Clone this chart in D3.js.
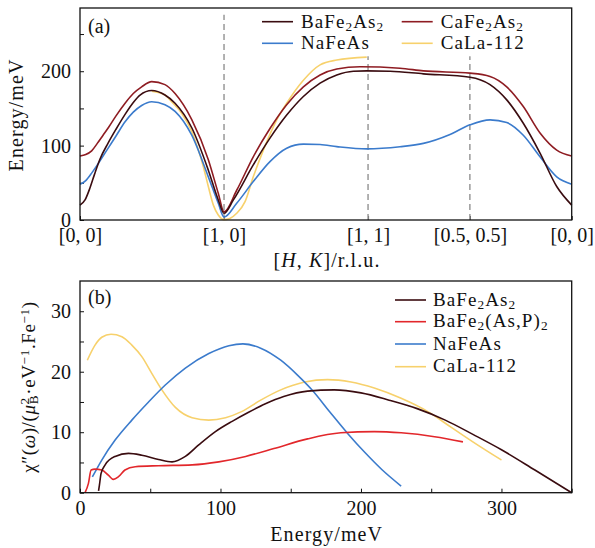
<!DOCTYPE html>
<html>
<head>
<meta charset="utf-8">
<script src="https://cdn.jsdelivr.net/npm/d3@7"></script>
<style>
  html, body { margin: 0; padding: 0; background: #fff; }
  svg text { font-family: "Liberation Serif", "DejaVu Serif", serif; fill: #111; }
</style>
</head>
<body>
<svg id="chart" width="595" height="548"></svg>
<script>
// ---- Panel (a): spin-wave dispersion along the high-symmetry path ----
// path coordinate (r.l.u. path length) of the high-symmetry points
const pathPoints = [0, 1, 2, 2.707, 3.414];
const pathLabels = ["[0, 0]", "[1, 0]", "[1, 1]", "[0.5, 0.5]", "[0, 0]"];
const dispTicks = [0, 50, 100, 150, 200, 250];
const dispTickLabels = [0, 100, 200];

// [path coordinate, energy meV]
const dispBaFe2As2 = [
  [0, 20], [0.035, 27], [0.069, 43], [0.1, 61], [0.139, 82], [0.194, 103],
  [0.25, 122], [0.313, 142], [0.37, 158], [0.417, 168], [0.498, 174],
  [0.59, 168], [0.66, 157], [0.776, 124], [0.891, 67], [0.96, 27], [1.0, 9],
  [1.065, 27], [1.203, 74], [1.319, 110], [1.435, 141], [1.551, 166],
  [1.667, 184], [1.783, 195], [1.898, 200], [1.991, 200.5], [2.153, 200],
  [2.384, 196.5], [2.708, 192], [2.847, 182], [2.963, 161.5], [3.078, 130],
  [3.194, 90], [3.31, 45], [3.414, 20]
];
const dispCaFe2As2 = [
  [0, 86], [0.04, 88], [0.081, 93], [0.12, 103], [0.16, 114], [0.2, 125],
  [0.25, 140], [0.313, 157], [0.37, 170], [0.428, 179], [0.498, 186],
  [0.59, 182], [0.66, 170], [0.776, 135], [0.891, 81], [0.96, 36], [1.0, 11],
  [1.088, 40], [1.203, 85], [1.319, 123], [1.435, 155], [1.551, 179],
  [1.667, 195], [1.783, 203], [1.944, 206], [2.222, 204], [2.384, 200.5],
  [2.708, 197.4], [2.847, 193], [2.963, 179], [3.078, 152.5], [3.194, 117],
  [3.31, 94], [3.414, 86]
];
const dispNaFeAs = [
  [0, 48], [0.04, 53], [0.081, 63], [0.12, 74], [0.16, 86], [0.2, 98],
  [0.25, 113], [0.313, 132], [0.37, 145], [0.428, 154], [0.498, 159],
  [0.59, 155], [0.66, 146], [0.776, 114], [0.891, 58], [0.96, 22.5], [1.0, 4],
  [1.088, 22.5], [1.203, 51.6], [1.319, 78.5], [1.435, 96.5], [1.551, 102],
  [1.667, 101.5], [1.783, 98.7], [1.991, 95.6], [2.222, 98.5], [2.384, 103],
  [2.569, 115], [2.708, 128], [2.847, 134.6], [2.963, 131], [3.078, 114],
  [3.194, 85], [3.31, 58], [3.414, 48]
];
const dispCaLa112 = [
  [0.498, 173], [0.59, 168], [0.636, 159], [0.706, 143.6], [0.776, 119],
  [0.822, 94], [0.856, 72], [0.891, 45], [0.926, 20], [0.96, 6.7], [1.0, 0.5],
  [1.04, 2], [1.088, 9], [1.146, 24.6], [1.203, 58], [1.273, 94], [1.366, 134.6],
  [1.435, 157], [1.551, 188], [1.667, 208.6], [1.783, 215], [1.991, 219]
];

// ---- Panel (b): local susceptibility versus energy ----
const chiXTicks = [0, 50, 100, 150, 200, 250, 300, 350];
const chiXTickLabels = [0, 100, 200, 300];
const chiYTicks = [0, 5, 10, 15, 20, 25, 30];
const chiYTickLabels = [0, 10, 20, 30];

// [energy meV, chi'' value]
const chiBaFe2As2 = [
  [13.2, 0.3], [13.8, 1.2], [15, 3.2], [17.9, 4.6], [25, 6.0], [34.5, 6.5],
  [44, 6.2], [55.9, 5.5], [65.5, 5.1], [75, 6.0], [84.5, 7.9], [96.4, 10.1],
  [108.3, 11.8], [120, 13.3], [132, 14.7], [145, 15.9], [162, 16.8],
  [181, 17.0], [200, 16.5], [220, 15.3], [240, 13.9], [260, 12.0],
  [280, 9.6], [300, 7.1], [323.8, 3.75], [350, 0]
];
const chiBaFe2AsP2 = [
  [3.6, 0], [6, 1.55], [7.9, 3.75], [10.7, 3.9], [15.5, 3.75], [20.2, 2.9],
  [23.8, 2.2], [27.4, 2.65], [32, 3.75], [39.3, 4.3], [56, 4.46], [79.8, 4.6],
  [98.8, 5.1], [117.9, 6.0], [138, 7.3], [162, 8.9], [185.7, 9.9],
  [209.5, 10.1], [228.6, 9.9], [252.4, 9.26], [272.6, 8.4]
];
const chiNaFeAs = [
  [8.8, 2.6], [15.5, 5.4], [25, 8.7], [36.9, 12.0], [48.8, 15.0], [60.7, 17.8],
  [75, 20.6], [91.7, 23.0], [106, 24.3], [116, 24.6], [128.6, 23.9],
  [142.9, 21.9], [155, 19.4], [165.5, 16.9], [178, 13.3], [190.5, 9.8],
  [203, 6.6], [215, 3.8], [228.6, 1.1]
];
const chiCaLa112 = [
  [5.2, 21.9], [10.7, 24.4], [15.5, 25.7], [22.1, 26.2], [29.8, 25.8],
  [36.9, 24.4], [44, 22.5], [51.2, 19.7], [58.3, 17], [67.9, 14.1],
  [79.8, 12.4], [91.7, 12.0], [103.6, 12.4], [115, 13.4], [128.6, 15.3],
  [142.9, 17.0], [160, 18.3], [176.2, 18.7], [192.9, 18.3], [209.5, 17.3],
  [228.6, 15.6], [247.6, 13.4], [264.3, 10.8], [281, 8.2], [300, 5.4]
];

const colors = {
  ba: "#3a0c10",
  ca: "#8e1c22",
  na: "#3b7bcc",
  cala: "#f7d16c",
  baP: "#e2272b"
};

const svg = d3.select("#chart");
const FS = 20;
const LS = 1.1; // letter spacing for titles and legend entries

function subText(sel, parts) {
  // parts: [text, mode] where mode is "", "sub" or "sup"
  parts.forEach(([t, mode]) => {
    const ts = sel.append("tspan").text(t);
    if (mode === "sub") ts.attr("font-size", "70%").attr("baseline-shift", "-25%");
    if (mode === "sup") ts.attr("font-size", "70%").attr("baseline-shift", "45%");
  });
}

function drawPanel(cfg) {
  const g = svg.append("g");
  const { x, y } = cfg;
  const [x0] = x.range();
  const [y0] = y.range();

  // y ticks (inward) and labels
  const yAx = d3.axisLeft(y).tickValues(cfg.yTicks).tickSize(-4).tickPadding(9)
    .tickFormat(d => cfg.yLabels.includes(d) ? d : "");
  const yg = g.append("g").attr("transform", `translate(${x0},0)`).call(yAx);
  yg.select(".domain").remove();
  yg.selectAll("line").attr("stroke", "#111").attr("stroke-width", 1);
  yg.selectAll("text").attr("font-size", FS).attr("font-family", "Liberation Serif").attr("fill", "#111");

  const xAx = d3.axisBottom(x).tickValues(cfg.xTicks).tickSize(-4).tickPadding(cfg.xPad)
    .tickFormat(cfg.xFormat);
  const xg = g.append("g").attr("transform", `translate(0,${y0})`).call(xAx);
  xg.select(".domain").remove();
  xg.selectAll("line").attr("stroke", "#111").attr("stroke-width", 1);
  xg.selectAll("text").attr("font-size", FS).attr("font-family", "Liberation Serif").attr("fill", "#111");
  return g;
}

// ---------------- Panel (a) ----------------
const xa = d3.scaleLinear().domain([0, 3.414]).range([80, 571.7]);
const ya = d3.scaleLinear().domain([0, 285]).range([220, 8]);

const gA = drawPanel({
  x: xa, y: ya, yTicks: dispTicks, yLabels: dispTickLabels,
  xTicks: pathPoints, xPad: 8, xFormat: (d, i) => pathLabels[i]
});

// dashed guides at the zone-boundary points
const guideTops = [276, 220, 220];
[1, 2, 2.707].forEach((q, i) => {
  gA.append("line")
    .attr("x1", xa(q)).attr("x2", xa(q))
    .attr("y1", ya(0)).attr("y2", ya(guideTops[i]))
    .attr("stroke", "#999").attr("stroke-width", 1.5)
    .attr("stroke-dasharray", "6,4");
});

const lineA = d3.line().x(d => xa(d[0])).y(d => ya(d[1])).curve(d3.curveMonotoneX);
[
  [dispCaLa112, colors.cala],
  [dispNaFeAs, colors.na],
  [dispCaFe2As2, colors.ca],
  [dispBaFe2As2, colors.ba]
].forEach(([data, c]) => {
  gA.append("path").datum(data).attr("d", lineA)
    .attr("fill", "none").attr("stroke", c).attr("stroke-width", 1.6);
});

gA.append("rect").attr("x", 80).attr("y", 8).attr("width", 491.7).attr("height", 212)
  .attr("fill", "none").attr("stroke", "#111").attr("stroke-width", 1.3);

gA.append("text").attr("x", 88).attr("y", 33).attr("font-size", FS).text("(a)");

// legend (a)
const legA = [
  { c: colors.ba, x: 262, y: 21.7, parts: [["BaFe", ""], ["2", "sub"], ["As", ""], ["2", "sub"]] },
  { c: colors.ca, x: 401.7, y: 21.7, parts: [["CaFe", ""], ["2", "sub"], ["As", ""], ["2", "sub"]] },
  { c: colors.na, x: 262, y: 43.3, parts: [["NaFeAs", ""]] },
  { c: colors.cala, x: 401.7, y: 43.3, parts: [["CaLa-112", ""]] }
];
legA.forEach(d => {
  gA.append("line").attr("x1", d.x).attr("x2", d.x + 31).attr("y1", d.y).attr("y2", d.y)
    .attr("stroke", d.c).attr("stroke-width", 1.6);
  const t = gA.append("text").attr("x", d.x + 39).attr("y", d.y + 6)
    .attr("font-size", 19).attr("letter-spacing", LS);
  subText(t, d.parts);
});

// axis titles (a)
const xtA = gA.append("text").attr("x", 327).attr("y", 267).attr("text-anchor", "middle")
  .attr("font-size", FS).attr("letter-spacing", LS);
xtA.append("tspan").text("[");
xtA.append("tspan").attr("font-style", "italic").text("H");
xtA.append("tspan").text(", ");
xtA.append("tspan").attr("font-style", "italic").text("K");
xtA.append("tspan").text("]/r.l.u.");

gA.append("text").attr("transform", "translate(23,115) rotate(-90)")
  .attr("text-anchor", "middle").attr("font-size", FS).attr("letter-spacing", LS)
  .text("Energy/meV");

// ---------------- Panel (b) ----------------
const xb = d3.scaleLinear().domain([0, 350]).range([80, 571.7]);
const yb = d3.scaleLinear().domain([0, 35]).range([492.7, 281]);

const gB = drawPanel({
  x: xb, y: yb, yTicks: chiYTicks, yLabels: chiYTickLabels,
  xTicks: chiXTicks, xPad: 8, xFormat: d => chiXTickLabels.includes(d) ? d : ""
});

const lineB = d3.line().x(d => xb(d[0])).y(d => yb(d[1])).curve(d3.curveMonotoneX);
[
  [chiCaLa112, colors.cala],
  [chiNaFeAs, colors.na],
  [chiBaFe2AsP2, colors.baP],
  [chiBaFe2As2, colors.ba]
].forEach(([data, c]) => {
  gB.append("path").datum(data).attr("d", lineB)
    .attr("fill", "none").attr("stroke", c).attr("stroke-width", 1.6);
});

gB.append("rect").attr("x", 80).attr("y", 281).attr("width", 491.7).attr("height", 211.7)
  .attr("fill", "none").attr("stroke", "#111").attr("stroke-width", 1.3);

gB.append("text").attr("x", 88).attr("y", 304).attr("font-size", FS).text("(b)");

const legB = [
  { c: colors.ba, y: 300, parts: [["BaFe", ""], ["2", "sub"], ["As", ""], ["2", "sub"]] },
  { c: colors.baP, y: 321.7, parts: [["BaFe", ""], ["2", "sub"], ["(As,P)", ""], ["2", "sub"]] },
  { c: colors.na, y: 344, parts: [["NaFeAs", ""]] },
  { c: colors.cala, y: 366.7, parts: [["CaLa-112", ""]] }
];
legB.forEach(d => {
  gB.append("line").attr("x1", 395).attr("x2", 426).attr("y1", d.y).attr("y2", d.y)
    .attr("stroke", d.c).attr("stroke-width", 1.6);
  const t = gB.append("text").attr("x", 433).attr("y", d.y + 5.5)
    .attr("font-size", 19).attr("letter-spacing", LS);
  subText(t, d.parts);
});

gB.append("text").attr("x", 326.7).attr("y", 541).attr("text-anchor", "middle")
  .attr("font-size", FS).attr("letter-spacing", LS).text("Energy/meV");

const ytB = gB.append("text").attr("transform", "translate(35,387) rotate(-90)")
  .attr("text-anchor", "middle").attr("font-size", 19).attr("letter-spacing", 0.6);
ytB.append("tspan").text("χ″(");
ytB.append("tspan").attr("font-style", "italic").text("ω");
ytB.append("tspan").text(")/(");
ytB.append("tspan").attr("font-style", "italic").text("μ");
ytB.append("tspan").attr("font-size", "70%").attr("baseline-shift", "45%").text("2");
ytB.append("tspan").attr("font-size", "70%").attr("baseline-shift", "-25%").attr("dx", -7).text("B");
ytB.append("tspan").text("·eV");
ytB.append("tspan").attr("font-size", "70%").attr("baseline-shift", "45%").text("−1");
ytB.append("tspan").text(".Fe");
ytB.append("tspan").attr("font-size", "70%").attr("baseline-shift", "45%").text("−1");
ytB.append("tspan").text(")");
</script>
</body>
</html>
